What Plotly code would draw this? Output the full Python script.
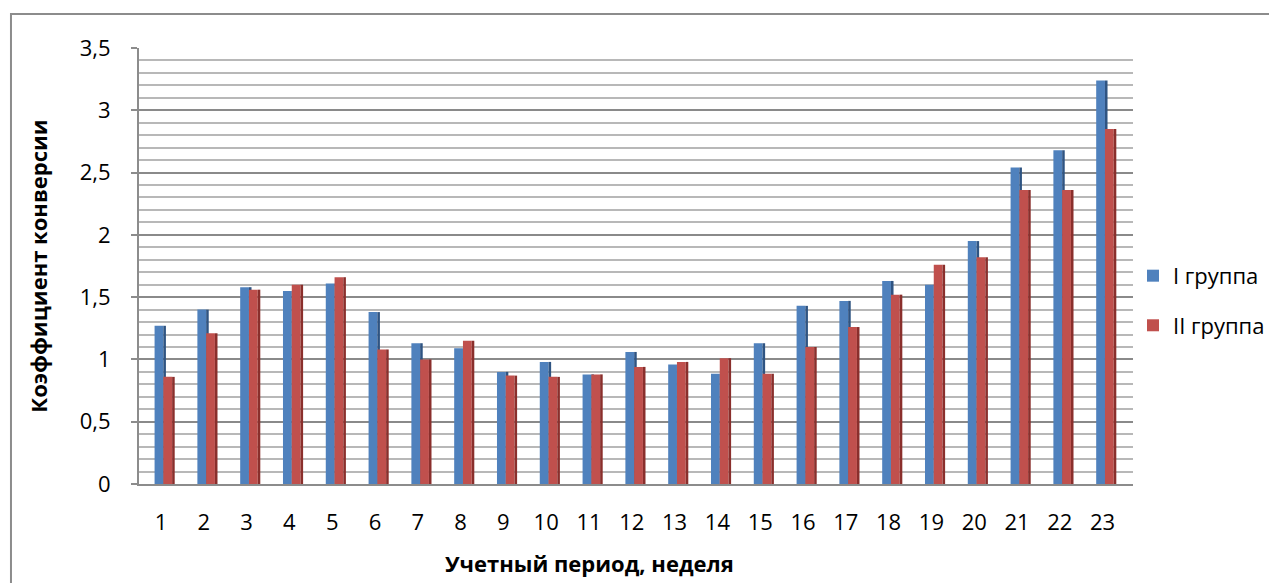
import plotly.graph_objects as go

weeks = [str(i) for i in range(1, 24)]
group1 = [1.27, 1.40, 1.58, 1.55, 1.61, 1.38, 1.13, 1.09, 0.90, 0.98, 0.88, 1.06,
          0.96, 0.885, 1.13, 1.43, 1.47, 1.63, 1.60, 1.95, 2.54, 2.68, 3.24]
group2 = [0.86, 1.21, 1.56, 1.60, 1.66, 1.08, 1.00, 1.15, 0.87, 0.86, 0.88, 0.94,
          0.98, 1.01, 0.885, 1.10, 1.26, 1.52, 1.76, 1.82, 2.36, 2.36, 2.85]
names = ["I группа", "II группа"]
x_title = "Учетный период, неделя"
y_title = "Коэффициент конверсии"

blue, blue_dark = "#4f81bd", "#2f5482"
red, red_dark = "#c0504d", "#8a2f2c"
FONT = "Open Sans"

face_w = 0.205
side_w = 0.06
start = -0.15

fig = go.Figure()
# front face + side face of each series (pseudo 3D)
fig.add_trace(go.Bar(x=weeks, y=group1, name=names[0], marker=dict(color=blue, line=dict(width=0)),
                     width=face_w, offset=start, legendgroup="a"))
fig.add_trace(go.Bar(x=weeks, y=group1, showlegend=False, marker=dict(color=blue_dark, line=dict(width=0)),
                     width=side_w, offset=start + face_w, hoverinfo="skip"))
fig.add_trace(go.Bar(x=weeks, y=group2, name=names[1], marker=dict(color=red, line=dict(width=0)),
                     width=face_w, offset=start + face_w, legendgroup="b"))
fig.add_trace(go.Bar(x=weeks, y=group2, showlegend=False, marker=dict(color=red_dark, line=dict(width=0)),
                     width=side_w, offset=start + 2 * face_w, hoverinfo="skip"))

fig.update_layout(
    width=1269, height=575,
    margin=dict(l=131, r=144, t=40, b=99, autoexpand=False),
    barmode="overlay",
    paper_bgcolor="white", plot_bgcolor="white",
    font=dict(family=FONT, color="black"),
    showlegend=True,
    legend=dict(x=1.0, y=0.42, xanchor="left", yanchor="middle",
                font=dict(size=22, family=FONT), tracegroupgap=18,
                traceorder="grouped", itemwidth=30),
    xaxis=dict(
        type="category", range=[-0.514, 22.71],
        showgrid=False, showline=True, linecolor="#8c8c8c", linewidth=2,
        ticks="", tickfont=dict(size=22, family=FONT), ticklabelstandoff=18,
        fixedrange=True,
    ),
    yaxis=dict(
        range=[0, 3.5],
        showgrid=True, gridcolor="#8a8a8a", gridwidth=2,
        minor=dict(dtick=0.1, showgrid=True, gridcolor="#b8b8b8", gridwidth=2),
        showline=True, linecolor="#8c8c8c", linewidth=2,
        ticks="outside", ticklen=6, tickcolor="#8c8c8c", tickwidth=2,
        tickfont=dict(size=22, family=FONT), ticklabelstandoff=16,
        title=dict(text=f"<b>{y_title}</b>", font=dict(size=22, family=FONT), standoff=26),
        zeroline=False, fixedrange=True,
    ),
    annotations=[dict(text=f"<b>{x_title}</b>", xref="paper", yref="paper",
                      x=0.4537, y=-0.181, xanchor="center", yanchor="middle",
                      showarrow=False, font=dict(size=22, family=FONT))],
    shapes=[dict(type="rect", xref="paper", yref="paper", x0=-0.1288, x1=1.2, y0=-0.3, y1=1.078,
                 line=dict(color="#8c8c8c", width=2), fillcolor="rgba(0,0,0,0)", layer="below")],
)
fig.update_yaxes(tickvals=[0, 0.5, 1, 1.5, 2, 2.5, 3, 3.5],
                 ticktext=["0", "0,5", "1", "1,5", "2", "2,5", "3", "3,5"])

fig.write_html("out.html")
